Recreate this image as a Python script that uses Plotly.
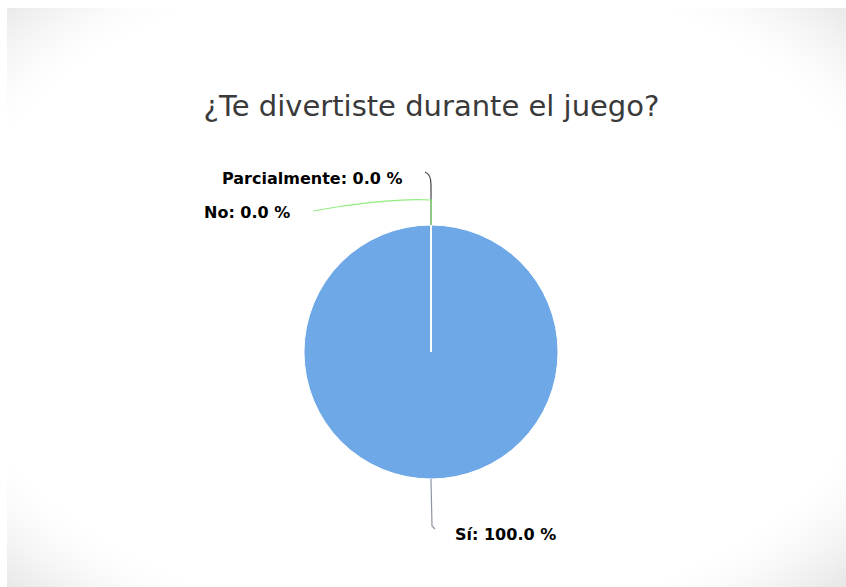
import base64
import math
import struct
import zlib

import numpy as np
import plotly.graph_objects as go

# Survey answers (percent of responses)
labels = ["Sí", "Parcialmente", "No"]
values = [100.0, 0.0, 0.0]
slice_colors = ["#6ea8e6", "#434348", "#90ed7d"]
connector_colors = ["#8d96a0", "#434348", "#90ed7d"]
title_text = "¿Te divertiste durante el juego?"

W, H = 846, 587
CX, CY, R = 431, 352, 127


def fx(x):
    return x / W


def fy(y):
    return 1 - y / H


def png_data_uri(rgb):
    h, w, _ = rgb.shape
    raw = b"".join(b"\x00" + rgb[i].tobytes() for i in range(h))

    def chunk(tag, data):
        c = struct.pack(">I", len(data)) + tag + data
        return c + struct.pack(">I", zlib.crc32(tag + data) & 0xFFFFFFFF)

    png = b"\x89PNG\r\n\x1a\n"
    png += chunk(b"IHDR", struct.pack(">IIBBBBB", w, h, 8, 2, 0, 0, 0))
    png += chunk(b"IDAT", zlib.compress(raw, 9))
    png += chunk(b"IEND", b"")
    return "data:image/png;base64," + base64.b64encode(png).decode()


# soft grey vignette behind the card
yy, xx = np.mgrid[0:H, 0:W].astype(float)
r = np.sqrt(((xx - W / 2) / (W / 2)) ** 2 + ((yy - H / 2) / (H / 2)) ** 2) / math.sqrt(2)
shade = np.clip((r - 0.80) / 0.20, 0, 1) ** 1.4 * 24
shade[(yy < 8) | (xx < 7)] = 0
gray = np.clip(255 - shade, 0, 255).astype(np.uint8)
bg = np.dstack([gray, gray, gray])

fig = go.Figure()
fig.add_trace(go.Pie(
    labels=labels,
    values=values,
    sort=False,
    direction="clockwise",
    rotation=0,
    marker=dict(colors=slice_colors, line=dict(color="#ffffff", width=1)),
    textinfo="none",
    hovertemplate="%{label}: %{percent:.1%}<extra></extra>",
    showlegend=False,
    domain=dict(x=[fx(CX - R), fx(CX + R)], y=[fy(CY + R), fy(CY - R)]),
))

total = sum(values)
shapes = []
annotations = []

# radial border at the start of the first slice
shapes.append(dict(type="line", xref="paper", yref="paper",
                   x0=fx(CX), y0=fy(CY), x1=fx(CX), y1=fy(CY - R),
                   line=dict(color="#ffffff", width=2), layer="above"))


def conn_path(lab, x0, y0):
    if lab == "Sí":
        pts = f"M {fx(x0)},{fy(y0)} L {fx(x0 + 1)},{fy(y0 + 47)} L {fx(x0 + 4)},{fy(y0 + 50)}"
        return pts, (x0 + 22, y0 + 55, "left")
    if lab == "Parcialmente":
        pts = (f"M {fx(x0)},{fy(y0)} L {fx(x0)},{fy(y0 - 40)} "
               f"Q {fx(x0)},{fy(y0 - 51)} {fx(x0 - 6)},{fy(y0 - 53)}")
        return pts, (x0 - 26, y0 - 47, "right")
    pts = (f"M {fx(x0)},{fy(y0)} L {fx(x0)},{fy(y0 - 25)} "
           f"C {fx(x0 - 31)},{fy(y0 - 27)} {fx(x0 - 81)},{fy(y0 - 21)} {fx(x0 - 118)},{fy(y0 - 14)}")
    return pts, (x0 - 139, y0 - 12, "right")


cum = 0.0
for lab, v, cc in zip(labels, values, connector_colors):
    mid = (cum + v / 2) / total * 2 * math.pi
    cum += v
    ex = CX + R * math.sin(mid)
    ey = CY - R * math.cos(mid)
    path, (lx, ly, side) = conn_path(lab, round(ex), round(ey))
    shapes.append(dict(type="path", xref="paper", yref="paper", path=path,
                       line=dict(color=cc, width=1.2), layer="above"))
    annotations.append(dict(
        x=fx(lx), y=fy(ly), xref="paper", yref="paper",
        xanchor=side, yanchor="middle", showarrow=False,
        text=f"{lab}: {v / total * 100:.1f} %",
        font=dict(family="DejaVu Sans", size=16, color="#000000", weight="bold"),
    ))

fig.update_layout(
    width=W, height=H,
    margin=dict(l=0, r=0, t=0, b=0),
    paper_bgcolor="#ffffff",
    plot_bgcolor="#ffffff",
    title=dict(text=title_text, x=fx(431.5), xanchor="center",
               y=fy(106), yanchor="middle", yref="container",
               font=dict(family="DejaVu Sans", size=29, color="#3a3a3a")),
    shapes=shapes,
    annotations=annotations,
    images=[dict(source=png_data_uri(bg), xref="paper", yref="paper",
                 x=0, y=1, sizex=1, sizey=1, xanchor="left", yanchor="top",
                 sizing="stretch", layer="below")],
)

fig.write_html("out.html", config={"displayModeBar": False})
